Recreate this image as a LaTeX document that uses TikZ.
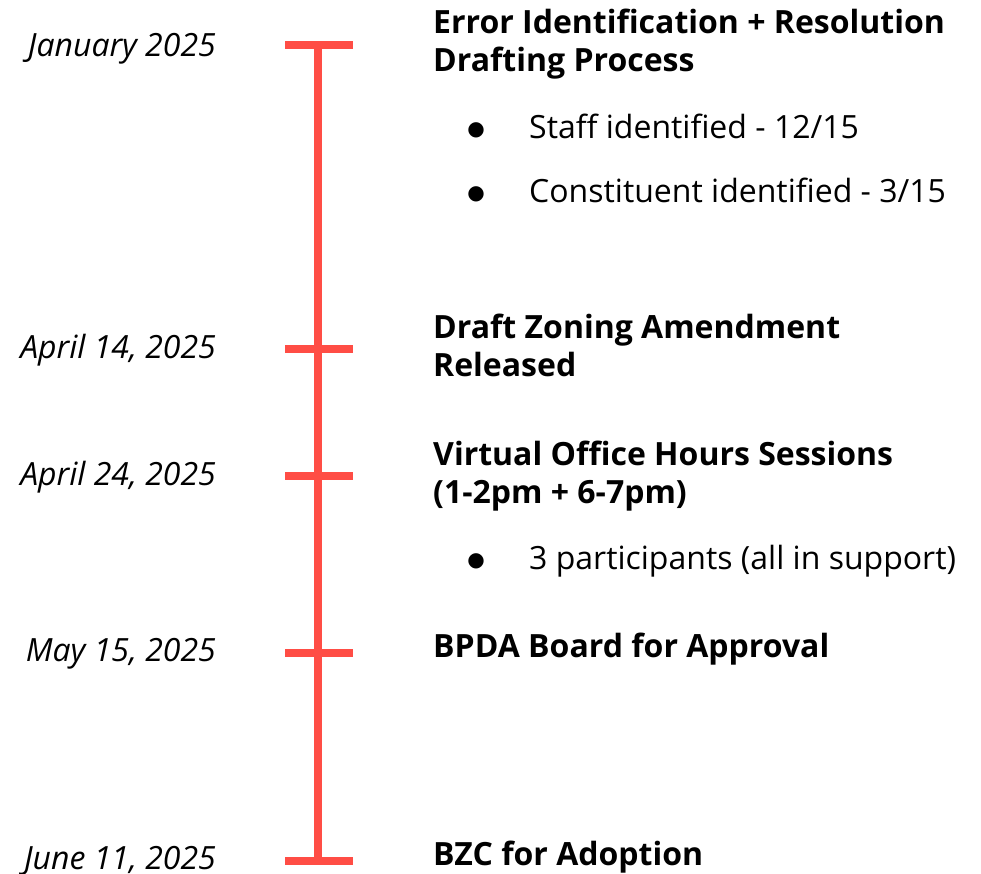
\documentclass[tikz,border=0pt]{standalone}
\usepackage{fontspec}
\setmainfont{Open Sans}
\newfontfamily\symfont{DejaVu Sans}
\definecolor{tlred}{RGB}{255,77,69}
\tikzset{
  axis/.style={draw=tlred, line width=8pt},
  tick/.style={draw=tlred, line width=8pt},
  datelbl/.style={anchor=base east, inner sep=0pt, font=\fontsize{32}{38}\selectfont\itshape},
  headlbl/.style={anchor=base west, inner sep=0pt, font=\fontsize{32}{38}\selectfont\bfseries, align=left},
  itemlbl/.style={anchor=base west, inner sep=0pt, font=\fontsize{32}{38}\selectfont},
  bul/.style={anchor=center, inner sep=0pt, font=\fontsize{20}{24}\selectfont\symfont}
}
\begin{document}
\begin{tikzpicture}[x=1pt,y=-1pt]
\useasboundingbox (0,0) rectangle (981,873);
% axis
\coordinate (top) at (318,45);
\coordinate (bot) at (318,861);
\draw[axis] (top) -- (bot);
% ticks
\foreach \n/\y in {t1/45,t2/349,t3/476,t4/653,t5/861}{
  \coordinate (\n l) at (285,\y);
  \coordinate (\n r) at (353,\y);
  \draw[tick] (\n l) -- (\n r);
}
% dates
\node[datelbl] (d1) at (216,56) {January 2025};
\node[datelbl] (d2) at (216,358) {April 14, 2025};
\node[datelbl] (d3) at (216,485) {April 24, 2025};
\node[datelbl] (d4) at (216,661) {May 15, 2025};
\node[datelbl] (d5) at (216,869) {June 11, 2025};
% headings
\node[headlbl] (h1a) at (433,33) {Error Identification + Resolution};
\node[headlbl] (h1b) at (433,71) {Drafting Process};
\node[headlbl] (h2a) at (433,338) {Draft Zoning Amendment};
\node[headlbl] (h2b) at (433,376) {Released};
\node[headlbl] (h3a) at (433,465) {Virtual Office Hours Sessions};
\node[headlbl] (h3b) at (433,503) {(1-2pm + 6-7pm)};
\node[headlbl] (h4) at (433,657) {BPDA Board for Approval};
\node[headlbl] (h5) at (433,865) {BZC for Adoption};
% bullet items
\node[bul] (b1) at (476,130) {●};
\node[itemlbl] (i1) at (529,138) {Staff identified - 12/15};
\node[bul] (b2) at (476,194) {●};
\node[itemlbl] (i2) at (529,202) {Constituent identified - 3/15};
\node[bul] (b3) at (476,561) {●};
\node[itemlbl] (i3) at (529,569) {3 participants (all in support)};
\end{tikzpicture}
\end{document}
